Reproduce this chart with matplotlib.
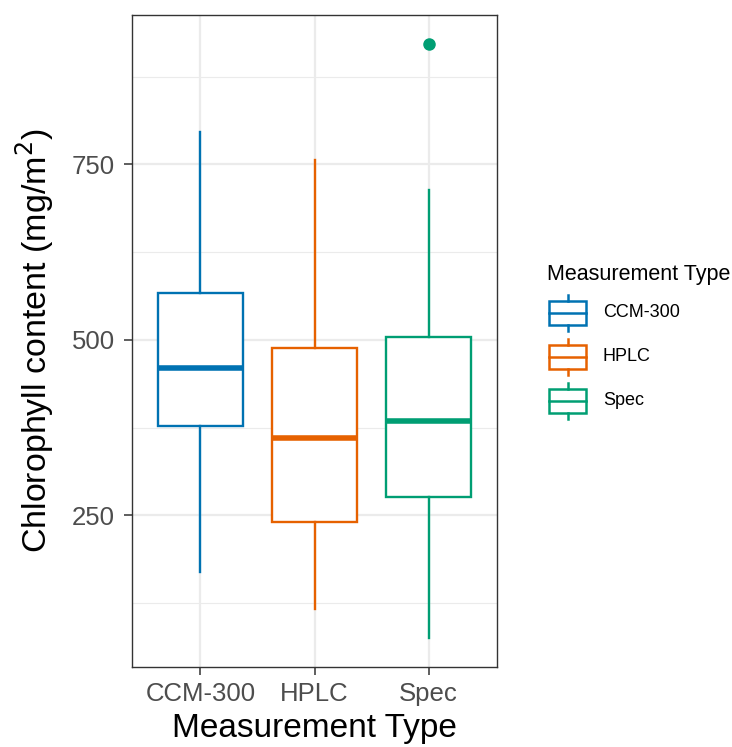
import matplotlib
matplotlib.use("Agg")
import matplotlib.pyplot as plt
from matplotlib.patches import Rectangle
from matplotlib.lines import Line2D

plt.rcParams['font.family'] = ['Liberation Sans', 'DejaVu Sans']

categories = ["CCM-300", "HPLC", "Spec"]
colors = ["#0072B2", "#E66100", "#009E73"]
whislo = [170, 116, 76]
q1 = [377, 240, 276]
med = [460, 361, 385]
q3 = [567, 488, 504]
whishi = [796, 757, 713]
outliers = [[], [], [921]]
yticks = [250, 500, 750]
yminor = [125, 375, 625, 875]

fig = plt.figure(figsize=(7.32, 7.47), dpi=100)
ax = fig.add_axes([132/732, 1-667/747, (497-132)/732, (667-15)/747])

stats = []
for i, c in enumerate(categories):
    stats.append(dict(label=c, whislo=whislo[i], q1=q1[i], med=med[i], q3=q3[i],
                      whishi=whishi[i], fliers=outliers[i]))

for i, s in enumerate(stats):
    col = colors[i]
    ax.bxp([s], positions=[i + 1], widths=0.75, showcaps=False, patch_artist=True,
           boxprops=dict(facecolor="white", edgecolor=col, linewidth=1.7),
           medianprops=dict(color=col, linewidth=4.0, solid_capstyle="butt"),
           whiskerprops=dict(color=col, linewidth=1.7),
           flierprops=dict(marker="o", markerfacecolor=col, markeredgecolor=col,
                           markersize=8),
           zorder=3)

ax.set_xlim(0.4, 3.6)
ax.set_ylim(34, 963)
ax.set_yticks(yticks)
ax.set_yticks(yminor, minor=True)
ax.set_xticks([1, 2, 3])
ax.set_xticklabels(categories)
ax.grid(True, which="major", color="#EBEBEB", linewidth=1.6, zorder=0)
ax.grid(True, which="minor", axis="y", color="#EBEBEB", linewidth=0.8, zorder=0)
ax.set_axisbelow(True)
for sp in ax.spines.values():
    sp.set_color("#333333")
    sp.set_linewidth(1.0)
ax.tick_params(axis="both", which="major", labelsize=18.5, colors="#4D4D4D",
               length=6, width=1.1, color="#333333")
ax.tick_params(axis="y", which="major", pad=6.5)
ax.tick_params(axis="x", which="major", pad=5)
ax.tick_params(axis="y", which="minor", length=0)
ax.set_xlabel("Measurement Type", fontsize=24, labelpad=5)
ax.set_ylabel("Chlorophyll content (mg/m$^2$)", fontsize=24.5, labelpad=11)

# legend
fig.text(547 / 732, 1 - 280 / 747, "Measurement Type", fontsize=15.5,
         va="baseline", ha="left")
lax = fig.add_axes([0, 0, 1, 1], facecolor="none")
lax.set_xlim(0, 732)
lax.set_ylim(747, 0)
lax.axis("off")
for i, c in enumerate(categories):
    yc = 312.5 + i * 44
    col = colors[i]
    lax.add_patch(Rectangle((549, yc - 12), 37, 24, fill=False, edgecolor=col, linewidth=1.8))
    lax.add_line(Line2D([549, 586], [yc, yc], color=col, linewidth=1.8))
    lax.add_line(Line2D([567.5, 567.5], [yc - 18, yc - 12], color=col, linewidth=1.8))
    lax.add_line(Line2D([567.5, 567.5], [yc + 12, yc + 18], color=col, linewidth=1.8))
    lax.text(603, yc, c, fontsize=13, va="center", ha="left")

fig.savefig("out.png", dpi=100)
